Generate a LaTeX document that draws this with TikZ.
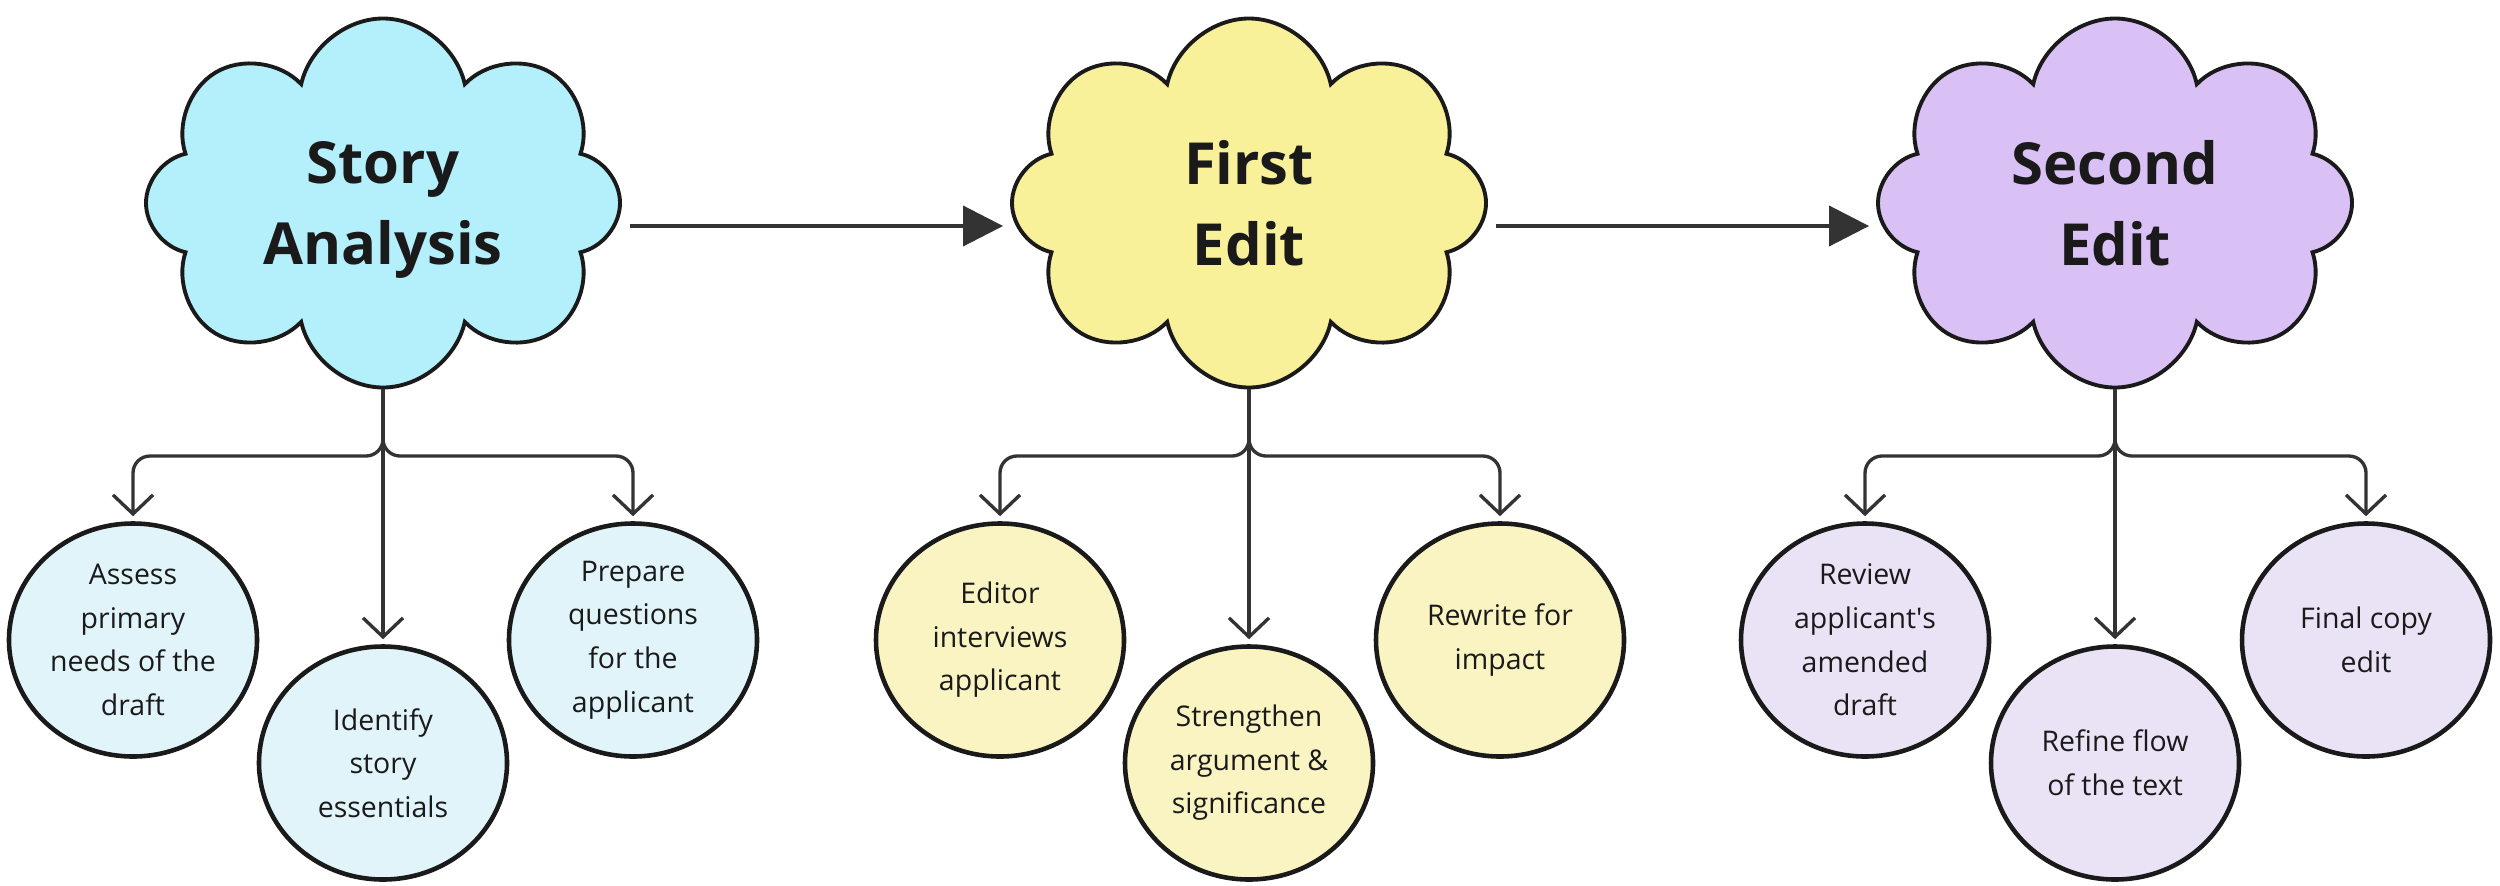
\documentclass[tikz,border=0pt]{standalone}
\usepackage{fontspec}
\setmainfont{Open Sans}
\usepackage{xcolor}
\usetikzlibrary{arrows.meta,shapes.symbols,shapes.geometric}

\definecolor{sablue}{HTML}{B3F0FC}
\definecolor{feyellow}{HTML}{F9F09A}
\definecolor{sepurple}{HTML}{D9C1F5}
\definecolor{sabluelt}{HTML}{E1F4FA}
\definecolor{feyellowlt}{HTML}{F9F4C2}
\definecolor{sepurplelt}{HTML}{EAE2F5}
\definecolor{linegray}{HTML}{333333}
\definecolor{edgeblack}{HTML}{1A1A1A}

\begin{document}
\begin{tikzpicture}[
    phase/.style={cloud, cloud puffs=8, cloud puff arc=155, cloud ignores aspect, draw=edgeblack, line width=1.1pt, minimum width=4.74cm, minimum height=3.69cm, inner sep=0pt, align=center, text depth=0pt, text=edgeblack, font=\bfseries\fontsize{16.5}{22.8}\selectfont},
    task/.style={ellipse, draw=edgeblack, line width=1.3pt, minimum width=2.48cm, minimum height=2.33cm, inner sep=0pt, align=center, text=edgeblack, font=\fontsize{8.1}{12.4}\selectfont},
    flow/.style={-{Triangle[length=0.4cm, width=0.4cm]}, line width=1.1pt, draw=linegray, shorten <=0.08cm, shorten >=0.07cm},
    branch/.style={-{Straight Barb[length=0.19cm, width=0.4cm]}, line width=0.95pt, draw=linegray, rounded corners=0.17cm, shorten >=0.05cm}
]
    \useasboundingbox (0,0) rectangle (25,8.85);

    % the three phases
    \node[phase, fill=sablue] (sa) at (3.83,6.82) {Story\\Analysis};
    \node[phase, fill=feyellow] (fe) at (12.49,6.82) {First\\Edit};
    \node[phase, fill=sepurple] (se) at (21.15,6.82) {Second\\Edit};

    \draw[flow] ([yshift=-0.23cm]sa.east) -- ([yshift=-0.23cm]fe.west);
    \draw[flow] ([yshift=-0.23cm]fe.east) -- ([yshift=-0.23cm]se.west);

    % story analysis tasks
    \node[task, fill=sabluelt] (sa1) at (1.33,2.45) {Assess\\primary\\needs of the\\draft};
    \node[task, fill=sabluelt] (sa2) at (3.83,1.22) {Identify\\story\\essentials};
    \node[task, fill=sabluelt] (sa3) at (6.33,2.45) {Prepare\\questions\\for the\\applicant};

    % first edit tasks
    \node[task, fill=feyellowlt] (fe1) at (10.00,2.45) {Editor\\interviews\\applicant};
    \node[task, fill=feyellowlt] (fe2) at (12.49,1.22) {Strengthen\\argument \&\\significance};
    \node[task, fill=feyellowlt] (fe3) at (15.00,2.45) {Rewrite for\\impact};

    % second edit tasks
    \node[task, fill=sepurplelt] (se1) at (18.65,2.45) {Review\\applicant\textquotesingle s\\amended\\draft};
    \node[task, fill=sepurplelt] (se2) at (21.15,1.22) {Refine flow\\of the text};
    \node[task, fill=sepurplelt] (se3) at (23.66,2.45) {Final copy\\edit};

    \coordinate (sa-j) at (3.83,4.29);
    \coordinate (fe-j) at (12.49,4.29);
    \coordinate (se-j) at (21.15,4.29);

    \draw[branch] (sa.south) -- (sa2.north);
    \draw[branch] (sa.south) -- (sa-j) -| (sa1.north);
    \draw[branch] (sa.south) -- (sa-j) -| (sa3.north);

    \draw[branch] (fe.south) -- (fe2.north);
    \draw[branch] (fe.south) -- (fe-j) -| (fe1.north);
    \draw[branch] (fe.south) -- (fe-j) -| (fe3.north);

    \draw[branch] (se.south) -- (se2.north);
    \draw[branch] (se.south) -- (se-j) -| (se1.north);
    \draw[branch] (se.south) -- (se-j) -| (se3.north);
\end{tikzpicture}
\end{document}
